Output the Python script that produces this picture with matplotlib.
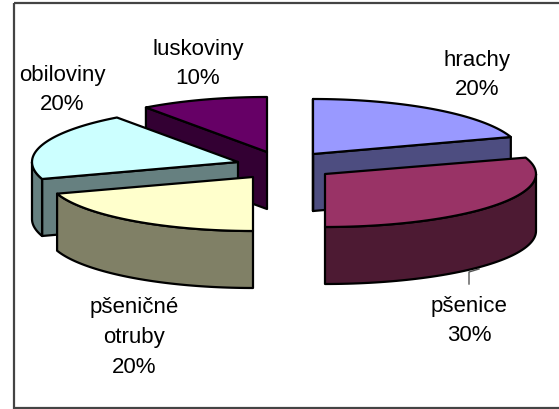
import numpy as np
import matplotlib
matplotlib.use("Agg")
import matplotlib.pyplot as plt
from matplotlib.patches import Polygon, Rectangle

categories = ["hrachy", "pšenice", "pšeničné\notruby", "obiloviny", "luskoviny"]
shares = [20, 30, 20, 20, 10]
top_colors = ["#9999FF", "#993366", "#FFFFCC", "#CCFFFF", "#660066"]
side_colors = ["#4D4D80", "#4D1A33", "#808066", "#668080", "#330033"]

# exploded apex of each slice, in pixels
apex = [(313, 155), (325, 175), (253, 178), (238, 163), (267, 153)]
radius_x = [208, 211, 206, 206, 206]
radius_y = [55, 53, 54, 55, 55]
DEPTH = 57
label_pos = [(477, 73), (469, 320), (134, 336.5), (62, 89), (198, 63)]

fig = plt.figure(figsize=(5.59, 4.10), dpi=100, facecolor="white")
ax = fig.add_axes([0, 0, 1, 1])
ax.set_xlim(0, 559)
ax.set_ylim(410, 0)
ax.axis("off")
ax.add_patch(Rectangle((13.5, 4), 560, 404.5, fill=False, ec="#444444", lw=1.6))

edges = np.cumsum([0] + shares) / sum(shares) * 2 * np.pi


def rim(i, a, b, n=60):
    cx, cy = apex[i]
    t = np.linspace(a, b, n)
    return np.column_stack([cx + radius_x[i] * np.sin(t), cy - radius_y[i] * np.cos(t)])


def side(pts, color, z):
    p = np.vstack([pts, (pts + [0, DEPTH])[::-1]])
    ax.add_patch(Polygon(p, closed=True, fc=color, ec="black", lw=1.6, joinstyle="round", zorder=z))


# painting order: back slices first
order = [4, 3, 2, 0, 1]
for z, i in enumerate(order):
    a, b = edges[i], edges[i + 1]
    zz = 2 + z
    c = np.array([apex[i]], float)
    # visible cut faces
    if i == 0:
        side(np.vstack([c, rim(i, b, b, 1)]), side_colors[i], zz)
        side(np.vstack([rim(i, a, a, 1), c]), side_colors[i], zz)
    if i == 3:
        side(np.vstack([c, rim(i, a, a, 1)]), side_colors[i], zz)
    if i == 4:
        side(np.vstack([rim(i, a, a, 1), c]), side_colors[i], zz)
    # visible outer wall: the front half of the rim
    lo, hi = max(a, np.pi / 2), min(b, 3 * np.pi / 2)
    if lo < hi:
        side(rim(i, lo, hi), side_colors[i], zz)
    ax.add_patch(Polygon(np.vstack([c, rim(i, a, b)]), closed=True, fc=top_colors[i],
                         ec="black", lw=1.6, joinstyle="round", zorder=zz))

ax.plot([469, 469, 479], [285, 273, 270], color="#555555", lw=1, zorder=1)

label_pos = [(x, y + d) for (x, y), d in zip(label_pos, [2, 1, 1, 1, 1])]
for name, v, (x, y) in zip(categories, shares, label_pos):
    ax.text(x, y, f"{name}\n{v}%", ha="center", va="center", fontsize=16,
            family="Liberation Sans", linespacing=1.54, color="black", zorder=30)

fig.savefig("out.png", dpi=100)
